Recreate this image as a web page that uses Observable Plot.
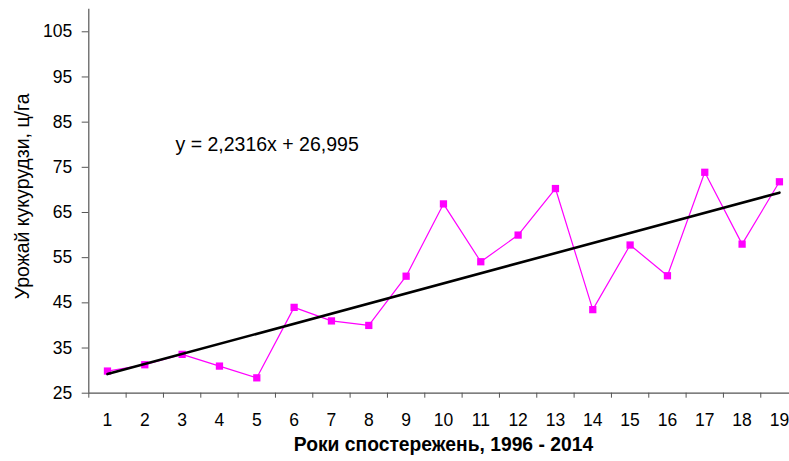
<!DOCTYPE html>
<html><head><meta charset="utf-8">
<script src="https://cdn.jsdelivr.net/npm/d3@7"></script>
<script src="https://cdn.jsdelivr.net/npm/@observablehq/plot@0.6"></script>
<style>
html,body{margin:0;padding:0;overflow:hidden;background:#fff;width:789px;height:461px;}
svg{max-width:none !important;}
</style></head><body><div id="chart"></div>
<script>
const years = [1,2,3,4,5,6,7,8,9,10,11,12,13,14,15,16,17,18,19];
const yields = [29.9,31.3,33.6,31.0,28.4,44.0,41.0,40.0,50.9,66.9,54.1,60.0,70.3,43.5,57.8,51.0,73.9,58.0,71.8];
const trendSlope = 2.2316;
const trendIntercept = 26.995;
const yTicks = [25,35,45,55,65,75,85,95,105];
const yDomain = [25,110];
const xLabel = "Роки спостережень, 1996 - 2014";
const yLabel = "Урожай кукурудзи, ц/га";
const equation = "y = 2,2316x + 26,995";

const data = years.map((t,i)=>({t, v: yields[i]}));
const trend = [years[0], years[years.length-1]].map(t=>({t, v: trendSlope*t+trendIntercept}));
const bounds = d3.range(0.5, years.length + 1, 1);
const axisColor = "#555";

const chart = Plot.plot({
  width: 800, height: 461,
  marginLeft: 88.3, marginRight: 2.4, marginTop: 8.7, marginBottom: 68.3,
  style: {fontFamily: "'Liberation Sans', Arial, sans-serif", background: "#fff", color: "#000", maxWidth: "none"},
  x: {domain: [0.5, years.length + 0.5]},
  y: {domain: yDomain},
  marks: [
    Plot.axisY({ticks: yTicks, tickSize: 6.6, tickPadding: 10, fontSize: 17.5, stroke: axisColor, fill: "#000", label: null}),
    Plot.axisX({ticks: bounds, tickSize: 5, tickFormat: () => "", stroke: axisColor, label: null}),
    Plot.axisX({ticks: years, tickSize: 0, tickPadding: 20, fontSize: 17.5, fill: "#000", label: null}),
    Plot.ruleY([yDomain[0]], {x1: 0.5, x2: years.length + 0.5, stroke: axisColor, strokeWidth: 1.2}),
    Plot.ruleX([0.5], {y1: yDomain[0], y2: yDomain[1], stroke: axisColor, strokeWidth: 1.2}),
    Plot.line(data, {x: "t", y: "v", stroke: "#FF00FF", strokeWidth: 1.2}),
    Plot.dot(data, {x: "t", y: "v", symbol: "square", r: 4.1, fill: "#FF00FF", stroke: "none"}),
    Plot.line(trend, {x: "t", y: "v", stroke: "#000", strokeWidth: 2.6}),
    Plot.text([equation], {frameAnchor: "top-left", textAnchor: "start", dx: 86.7, dy: 128.4, fontSize: 19.5, fill: "#000"}),
    Plot.text([yLabel], {frameAnchor: "left", textAnchor: "middle", rotate: -90, dx: -66.1, dy: -4.8, fontSize: 19.5, fill: "#000"}),
    Plot.text([xLabel], {frameAnchor: "bottom", dy: 57.9, fontSize: 19.3, fontWeight: "bold", fill: "#000"})
  ]
});
chart.style.maxWidth = "none";
document.getElementById("chart").appendChild(chart);
</script>
</body></html>
